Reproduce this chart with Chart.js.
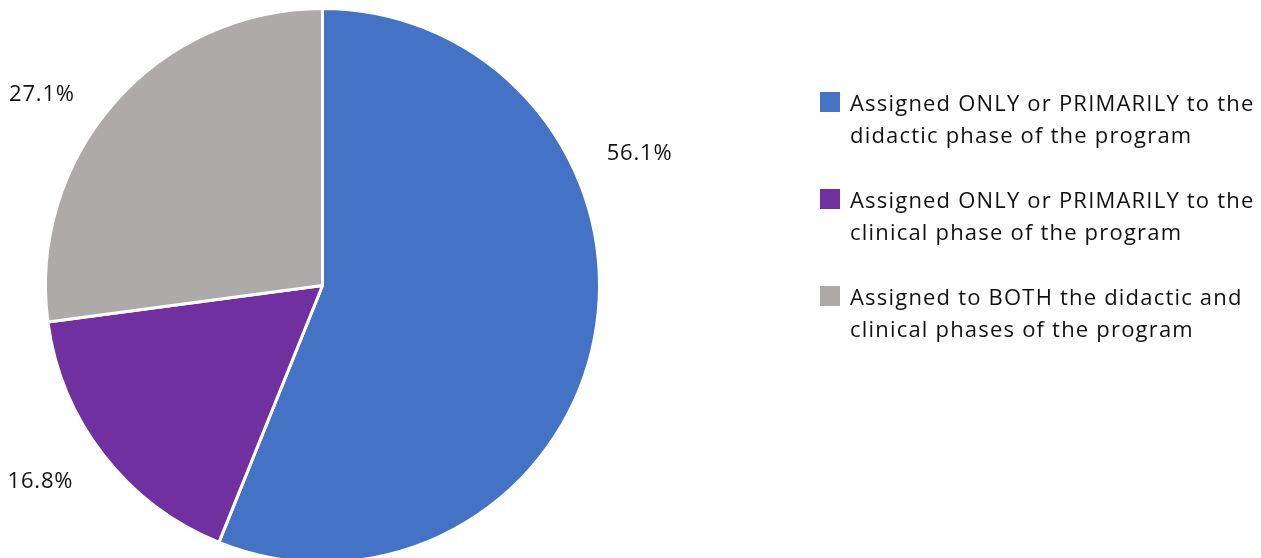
<!DOCTYPE html>
<html>
<head>
<meta charset="utf-8">
<script src="https://cdn.jsdelivr.net/npm/chart.js@4/dist/chart.umd.min.js"></script>
<style>
	html, body { margin: 0; padding: 0; background: #fff; }
	#wrap { position: relative; width: 1261px; height: 558px; overflow: hidden; }
	#pie { position: absolute; left: 0; top: 0; }
	#legend { position: absolute; left: 820px; top: 86px; font-family: "Open Sans", sans-serif; font-size: 22px; letter-spacing: 1.2px; color: #111; }
	.item { position: relative; padding-left: 30px; line-height: 32px; margin-bottom: 33px; white-space: nowrap; }
	.box { position: absolute; left: 0; top: 6px; width: 20px; height: 20px; }
</style>
</head>
<body>
<div id="wrap">
	<canvas id="pie" width="1261" height="580"></canvas>
	<div id="legend"></div>
</div>
<script>
	// Data
	const categories = [
		['Assigned ONLY or PRIMARILY to the', 'didactic phase of the program'],
		['Assigned ONLY or PRIMARILY to the', 'clinical phase of the program'],
		['Assigned to BOTH the didactic and', 'clinical phases of the program']
	];
	const values = [56.1, 16.8, 27.1];
	const valueLabels = ['56.1%', '16.8%', '27.1%'];
	const colors = ['#4472C4', '#7030A0', '#AEAAAA'];

	// Label placement: shift from slice mid angle (degrees), distance as share of radius
	const labelShift = [-33.6, 3, -7];
	const labelDist = [1.24, 1.24, 1.225];

	const outsideLabels = {
		id: 'outsideLabels',
		afterDraw: function(chart) {
			const ctx = chart.ctx;
			const meta = chart.getDatasetMeta(0);
			ctx.save();
			ctx.font = '22px "Open Sans", sans-serif';
			ctx.letterSpacing = '0.8px';
			ctx.fillStyle = '#111';
			ctx.textAlign = 'center';
			ctx.textBaseline = 'middle';
			meta.data.forEach(function(arc, i) {
				const p = arc.getProps(['x', 'y', 'startAngle', 'endAngle', 'outerRadius'], true);
				const a = (p.startAngle + p.endAngle) / 2 + labelShift[i] * Math.PI / 180;
				const r = p.outerRadius * labelDist[i];
				ctx.fillText(valueLabels[i], p.x + Math.cos(a) * r, p.y + Math.sin(a) * r);
			});
			ctx.restore();
		}
	};

	new Chart(document.getElementById('pie'), {
		type: 'pie',
		data: {
			labels: categories.map(function(c) { return c.join(' '); }),
			datasets: [{
				data: values,
				backgroundColor: colors,
				borderColor: '#fff',
				borderWidth: 3
			}]
		},
		options: {
			responsive: false,
			animation: false,
			layout: { padding: { left: 44, top: 7, right: 660, bottom: 16 } },
			plugins: {
				legend: { display: false },
				tooltip: { enabled: false }
			}
		},
		plugins: [outsideLabels]
	});

	// HTML legend so the two-line labels wrap like the original
	const legend = document.getElementById('legend');
	categories.forEach(function(lines, i) {
		const item = document.createElement('div');
		item.className = 'item';
		const box = document.createElement('span');
		box.className = 'box';
		box.style.background = colors[i];
		item.appendChild(box);
		item.appendChild(document.createTextNode(lines[0]));
		item.appendChild(document.createElement('br'));
		item.appendChild(document.createTextNode(lines[1]));
		legend.appendChild(item);
	});
</script>
</body>
</html>
